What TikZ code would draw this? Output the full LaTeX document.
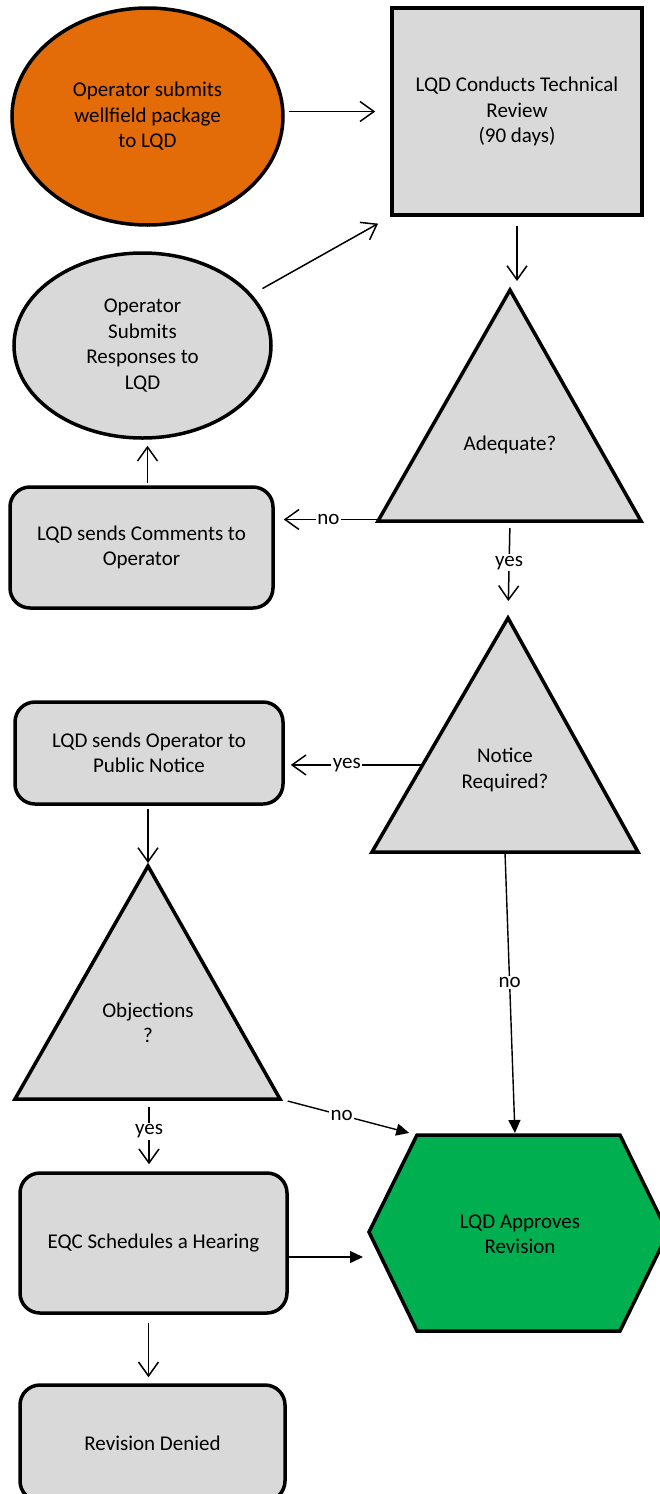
\documentclass[tikz,border=0pt]{standalone}
\usepackage{fontspec}
\setmainfont{Carlito}
\usetikzlibrary{shapes.geometric,arrows.meta}
\definecolor{boxgray}{HTML}{D9D9D9}
\definecolor{orng}{HTML}{E36C09}
\definecolor{grn}{HTML}{00B050}
\begin{document}
\begin{tikzpicture}[x=1pt,y=-1pt,
  every node/.style={font=\fontsize{21}{25.5}\selectfont, align=center},
  shp/.style={draw=black, line width=3.5pt, fill=boxgray},
  rbox/.style={shp, rectangle, rounded corners=20pt, inner sep=0pt},
  arr/.style={line width=1.5pt, -{Straight Barb[length=14pt,width=20pt,line width=1.5pt]}},
  farr/.style={line width=1.4pt, -{Triangle[length=13pt,width=12pt]}},
  lab/.style={fill=white, inner sep=1.5pt},
  txt/.style={inner sep=0pt}
]
\useasboundingbox (0,0) rectangle (660,1494);
\fill[white] (0,0) rectangle (660,1494);

% shapes
\node[shp, ellipse, fill=orng, minimum width=271pt, minimum height=217pt, inner sep=0pt] (start) at (147.5,116.5) {Operator submits\\wellfield package\\to LQD};
\node[shp, rectangle, minimum width=250pt, minimum height=207pt, inner sep=0pt] (review) at (517,111.5) {LQD Conducts Technical\\Review\\(90 days)};
\node[shp, ellipse, minimum width=257pt, minimum height=185pt, inner sep=0pt] (resp) at (142.5,345.5) {Operator\\Submits\\Responses to\\LQD};

\draw[shp] (510,290) coordinate (adA) -- (641,521) coordinate (adR) -- (378,521) coordinate (adL) -- cycle;
\coordinate (adB) at (510,521);
\node[txt] (adeq) at (510,445) {Adequate?};

\node[rbox, minimum width=263pt, minimum height=121pt] (comm) at (141.5,547.5) {LQD sends Comments to\\Operator};

\draw[shp] (508,618) coordinate (ntA) -- (638,852) coordinate (ntR) -- (372,852) coordinate (ntL) -- cycle;
\coordinate (ntB) at (505,852);
\path (ntA) -- (ntL) coordinate[pos=0.628] (ntE);
\node[txt] (notice) at (505,770) {Notice\\Required?};

\node[rbox, minimum width=268pt, minimum height=102pt] (pub) at (149,753) {LQD sends Operator to\\Public Notice};

\draw[shp] (148,866) coordinate (obA) -- (280,1099) coordinate (obR) -- (15,1099) coordinate (obL) -- cycle;
\coordinate (obB) at (149,1099);
\node[txt] (obj) at (148,1023) {Objections\\?};

\node[rbox, minimum width=267pt, minimum height=140pt] (eqc) at (153.5,1243) {EQC Schedules a Hearing};

\draw[shp, fill=grn] (417,1135) coordinate (hxTL) -- (620,1135) -- (668,1233) -- (620,1331) -- (417,1331) -- (369,1232) coordinate (hxL) -- cycle;
\coordinate (hxT) at (515,1135);
\node[txt] (appr) at (520,1234) {LQD Approves\\Revision};

\node[rbox, minimum width=265pt, minimum height=116pt] (den) at (152.5,1443) {Revision Denied};

% connectors
\draw[arr, shorten <=4pt, shorten >=15pt] (start.east |- review.west) -- (review.west);
\draw[arr, shorten <=12pt, shorten >=14pt] (resp.25) -- (review.south west);
\draw[arr, shorten <=9pt, shorten >=9pt] (review.south) -- (review.south |- adA);
\draw[arr, shorten >=9pt] ([yshift=1.5pt]adL) -- node[lab, pos=0.48] {no} ([yshift=1.5pt]comm.east |- adL);
\draw[arr, shorten <=2pt, shorten >=6pt] ([xshift=6pt]comm.north) -- ([xshift=6pt]comm.north |- resp.south);
\draw[arr, shorten <=7pt, shorten >=17pt] (adB) -- node[lab, pos=0.43] {yes} (ntA);
\draw[arr, shorten >=6pt] (ntE) -- node[lab, pos=0.55] {yes} (pub.east |- ntE);
\draw[arr, shorten <=3pt, shorten >=3pt] ([xshift=-1pt]pub.south) -- (obA);
\draw[farr, shorten <=2pt, shorten >=2pt] (ntB) -- node[lab, pos=0.46] {no} (hxT);
\draw[farr, shorten <=8pt, shorten >=8pt] (obR) -- node[lab, pos=0.45] {no} (hxTL);
\draw[arr, shorten <=8pt, shorten >=7pt] (obB) -- node[lab, pos=0.45] {yes} (obB |- eqc.north);
\draw[farr, shorten >=6pt] ([yshift=-14pt]eqc.east) -- ([yshift=-14pt]eqc.east -| hxL);
\draw[arr, shorten <=8pt, shorten >=6pt] ([xshift=-5pt]eqc.south) -- ([xshift=-5pt]eqc.south |- den.north);
\end{tikzpicture}
\end{document}
